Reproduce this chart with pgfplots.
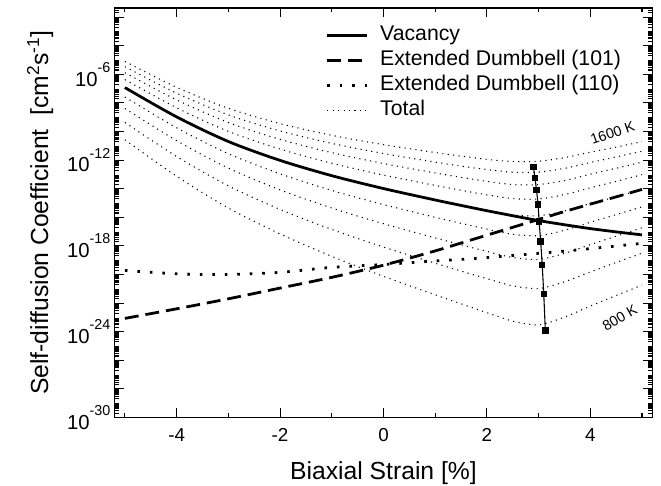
\documentclass[border=0pt]{standalone}
\usepackage{fontspec}
\setmainfont{Liberation Sans}
\usepackage{pgfplots}
\usepackage{pgfplotstable}
\pgfplotsset{compat=1.18}

% y values are log10 of D [cm^2 s^-1]
\pgfplotstableread{
x    vac     d101    d110
-5   -6.93  -23.07  -19.72
-4   -8.98  -22.40  -19.95
-3  -10.70  -21.70  -20.00
-2  -12.02  -20.95  -19.85
-1  -13.09  -20.20  -19.50
0   -13.99  -19.35  -19.30
1   -14.79  -18.35  -19.05
1.5 -15.17  -17.80  -18.94
2   -15.54  -17.25  -18.82
2.5 -15.89  -16.70  -18.67
3   -16.23  -16.15  -18.52
3.5 -16.52  -15.60  -18.37
4   -16.79  -15.08  -18.19
4.5 -17.02  -14.57  -18.01
5   -17.23  -14.05  -17.82
}\curves

% total D, 1600 K down to 800 K
\pgfplotstableread{
x    t1600  t1500  t1400  t1300  t1200  t1100  t1000  t900   t800
-5   -5.10  -5.47  -5.89  -6.37  -6.93  -7.59  -8.39  -9.37  -10.58
-4   -6.91  -7.32  -7.79  -8.34  -8.98  -9.74  -10.64 -11.75 -13.13
-3   -8.38  -8.84  -9.37  -9.99  -10.70 -11.55 -12.56 -13.80 -15.35
-2   -9.45  -9.96  -10.55 -11.23 -12.02 -12.96 -14.08 -15.45 -17.16
-1   -10.27 -10.83 -11.48 -12.22 -13.09 -14.12 -15.35 -16.85 -18.73
0    -10.92 -11.54 -12.24 -13.05 -13.99 -15.11 -16.45 -18.08 -20.13
1    -11.47 -12.14 -12.90 -13.77 -14.79 -16.00 -17.44 -19.21 -21.42
1.5  -11.72 -12.42 -13.20 -14.11 -15.17 -16.42 -17.92 -19.76 -22.05
2    -11.95 -12.66 -13.49 -14.43 -15.53 -16.83 -18.39 -20.29 -22.67
2.5  -12.10 -12.85 -13.71 -14.69 -15.84 -17.19 -18.81 -20.79 -23.26
3    -12.08 -12.84 -13.71 -14.72 -15.89 -17.28 -18.94 -20.98 -23.52
3.5  -11.83 -12.58 -13.43 -14.41 -15.56 -16.91 -18.53 -20.51 -22.98
4    -11.45 -12.17 -12.99 -13.94 -15.04 -16.35 -17.91 -19.82 -22.21
4.5  -11.09 -11.78 -12.57 -13.49 -14.57 -15.81 -17.32 -19.16 -21.47
5    -10.71 -11.38 -12.14 -13.02 -14.05 -15.27 -16.73 -18.51 -20.74
}\totals

% crossing points vacancy = dumbbell
\pgfplotstableread{
x     y
2.90  -12.48
2.93  -13.24
2.96  -14.10
2.99  -15.09
3.01  -16.29
3.04  -17.68
3.07  -19.32
3.10  -21.38
3.13  -23.92
}\minima

\newcommand{\tl}[1]{{\fontsize{20.5}{22}\selectfont 10\raisebox{14bp}{\fontsize{14.5}{15}\selectfont #1}}}

\tikzset{
  vacst/.style={black, line width=2.8bp},
  dbast/.style={black, line width=2.8bp, dash pattern=on 14bp off 7bp},
  dbbst/.style={black, line width=2.8bp, dash pattern=on 2.6bp off 10bp},
  totst/.style={black, line width=1.1bp, dash pattern=on 1.1bp off 4.4bp},
}

\begin{document}
% minor log ticks: n + log10(k), k = 2..9
\def\minorlist{}
\foreach \e in {-30,...,-2}{%
  \foreach \m in {0.301,0.477,0.602,0.699,0.778,0.845,0.903,0.954}{%
    \pgfmathsetmacro\v{\e+\m}\xdef\minorlist{\minorlist\v,}}}
\begin{tikzpicture}
\begin{axis}[
  scale only axis, width=542.3bp, height=413bp,
  xmin=-5.2, xmax=5.2, ymin=-30, ymax=-1.36,
  xtick={-4,-2,0,2,4}, xticklabels={-4,-2,0,2,4},
  minor xtick={-5,-3,-1,1,3,5},
  ytick={-30,-28,...,-2},
  yticklabels={\tl{-30},,,\tl{-24},,,\tl{-18},,,\tl{-12},,,\tl{-6},,},
  minor ytick/.expanded={\minorlist -40},
  tick align=inside, major tick length=9.5bp, minor tick length=4.5bp,
  tick style={black, line width=1.1bp},
  axis line style={line width=1.5bp},
  xticklabel style={font=\fontsize{19}{21}\selectfont, anchor=base, yshift=-24bp},
  yticklabel style={anchor=east, inner sep=0pt, xshift=-4bp},
  every axis x label/.style={at={(axis description cs:0.5,-0.1525)}, anchor=base,
    font=\fontsize{25}{28}\selectfont},
  every axis y label/.style={at={(axis description cs:-0.1235,0.5)}, rotate=90, anchor=base,
    font=\fontsize{25}{28}\selectfont},
  xlabel={Biaxial Strain [\%]},
  ylabel={Self-diffusion Coefficient\ \ [cm\textsuperscript{2}s\textsuperscript{-1}]},
  legend style={draw=none, fill=none, inner sep=0pt, outer sep=0pt,
    at={(axis description cs:0.3928,0.9634)}, anchor=north west,
    row sep=0pt, column sep=0pt, font=\fontsize{21.5}{25}\selectfont,
    nodes={inner sep=0pt, text height=18.2bp, text depth=7bp}},
  legend cell align=left,
  legend image code/.code={\draw[#1] (0bp,0bp) -- (40bp,0bp); \path (52bp,0bp);},
]
\addlegendimage{vacst}\addlegendentry{Vacancy}
\addlegendimage{dbast}\addlegendentry{Extended Dumbbell (101)}
\addlegendimage{dbbst}\addlegendentry{Extended Dumbbell (110)}
\addlegendimage{totst}\addlegendentry{Total}

\foreach \t in {t1600,t1500,t1400,t1300,t1200,t1100,t1000,t900,t800}{
  \addplot[totst, smooth, forget plot] table[x=x, y=\t] {\totals};
}
\addplot[vacst, smooth, forget plot] table[x=x, y=vac] {\curves};
\addplot[dbast, smooth, forget plot] table[x=x, y=d101] {\curves};
\addplot[dbbst, smooth, forget plot] table[x=x, y=d110] {\curves};
\addplot[black, line width=1.1bp, mark=square*, mark size=2.7bp, forget plot] table[x=x, y=y] {\minima};

\node[font=\fontsize{14.5}{15}\selectfont, rotate=19] at (axis cs:4.43,-10.1) {1600 K};
\node[font=\fontsize{14.5}{15}\selectfont, rotate=30] at (axis cs:4.57,-23.0) {800 K};
\end{axis}
\pgfresetboundingbox
\path[use as bounding box] ([shift={(-110bp,-69bp)}]current axis.south west)
  rectangle ([shift={(551bp,421bp)}]current axis.south west);
\end{tikzpicture}
\end{document}
